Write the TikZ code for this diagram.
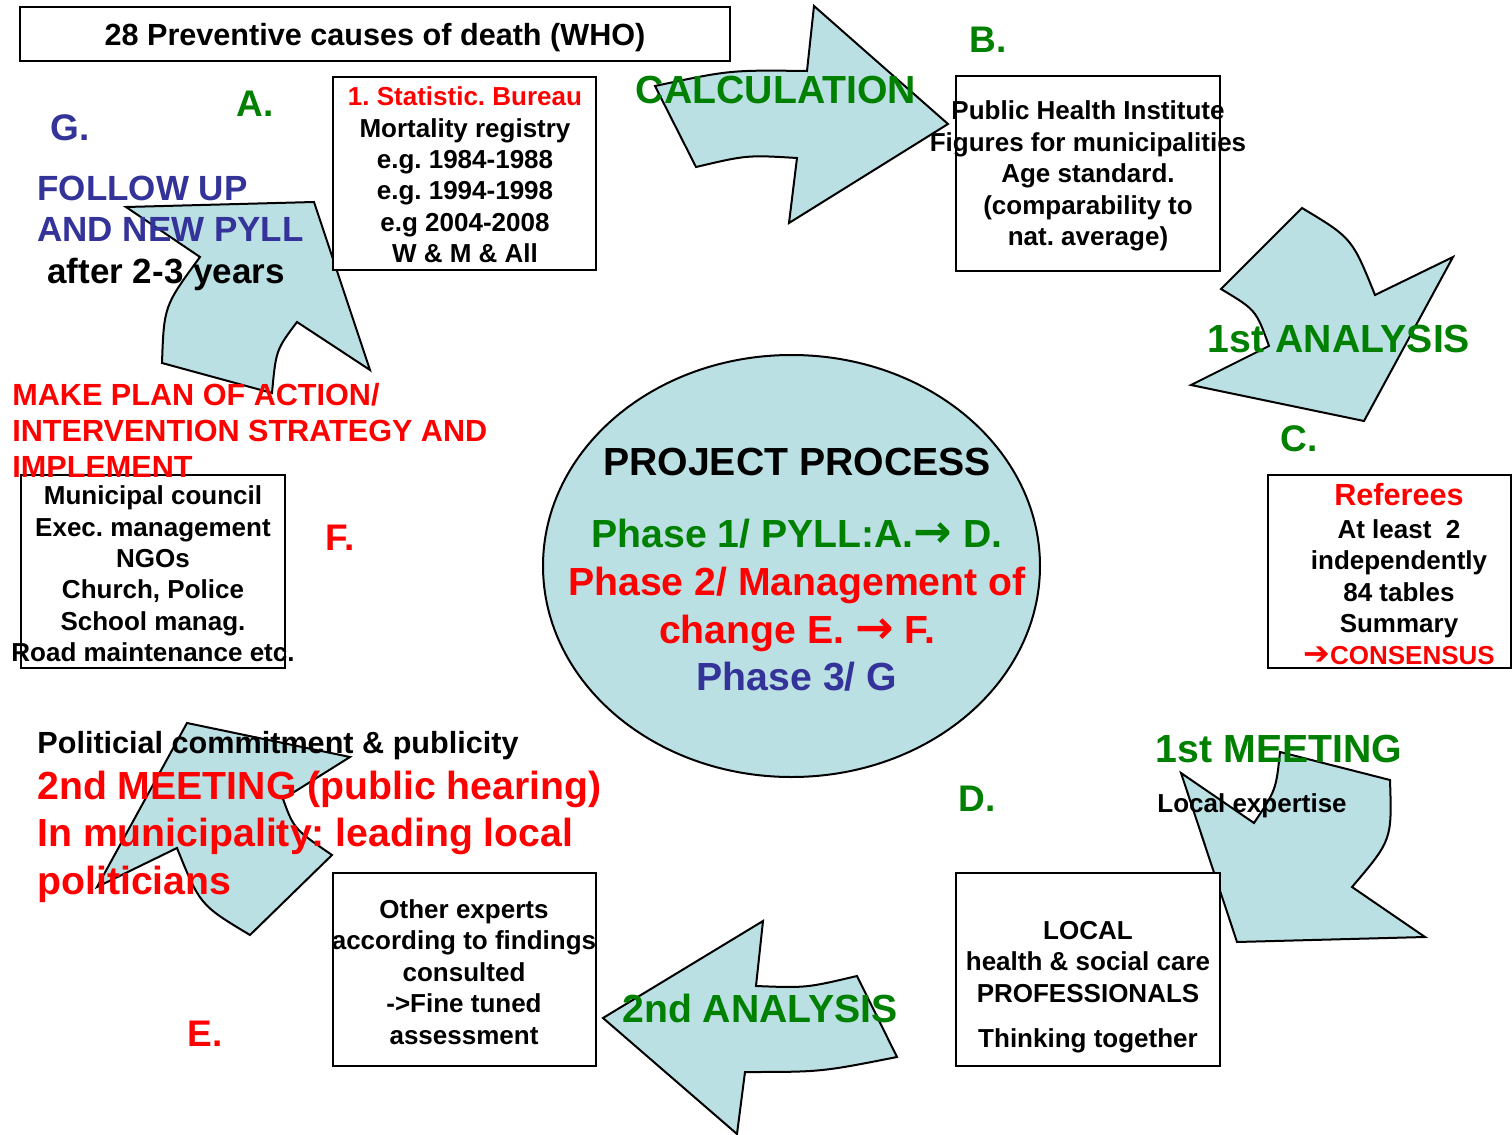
\documentclass[tikz,border=0pt]{standalone}
\usepackage{fontspec}
\setmainfont{Liberation Sans}
\newfontface\djvarr{DejaVu Sans}
\newfontface\djvbold{DejaVu Sans Bold}
\usetikzlibrary{shapes.geometric}
\definecolor{pgreen}{RGB}{0,128,0}
\definecolor{pred}{RGB}{255,0,0}
\definecolor{pblue}{RGB}{51,51,153}
\definecolor{arrfill}{RGB}{187,224,227}
\newcommand\phar{{\djvbold\fontsize{23}{23}\selectfont →}}
\tikzset{
  arr/.style={fill=arrfill, draw=black, line width=1pt, line join=miter},
  bx/.style={draw=black, line width=1pt, fill=white},
  boxtxt/.style={align=center, inner sep=0pt, font=\fontsize{13}{15.7}\selectfont\bfseries},
  fsA/.style={inner sep=0pt, font=\fontsize{13}{15.7}\selectfont\bfseries},
  fsB/.style={inner sep=0pt, font=\fontsize{15.3}{18}\selectfont\bfseries},
  fsC/.style={inner sep=0pt, font=\fontsize{17.5}{21}\selectfont\bfseries},
  fsD/.style={inner sep=0pt, font=\fontsize{18.5}{22}\selectfont\bfseries},
  fsE/.style={inner sep=0pt, font=\fontsize{19.6}{24}\selectfont\bfseries},
}
\begin{document}
\frenchspacing
\begin{tikzpicture}[x=0.5pt,y=-0.5pt]
\useasboundingbox (0,0) rectangle (1512,1135);

% ---- circular arrows ----
\draw[arr] (655,86) .. controls (730,70) .. (807,71) -- (814,6) -- (948,124) -- (789,223) -- (797,158) .. controls (747,155) .. (696,167) -- cycle;
\draw[arr] (1302,208) .. controls (1352,238) .. (1375,295) -- (1453,257) -- (1364,421) -- (1191,385) -- (1269,346) .. controls (1256,310) .. (1221,289) -- cycle;
\draw[arr] (1280,752) -- (1390,780) .. controls (1392,840) .. (1352,887) -- (1425,937) -- (1237,942) -- (1181,773) -- (1254,823) .. controls (1276,790) .. (1280,752) -- cycle;
\draw[arr] (763,921) -- (756,986) .. controls (806,988) .. (857,976) -- (897,1057) .. controls (821,1072) .. (745,1072) -- (737,1134) -- (603,1018) -- cycle;
\draw[arr] (187,723) -- (350,757) -- (283,799) .. controls (294,829) .. (332,855) -- (250,935) .. controls (200,905) .. (177,848) -- (97,887) -- cycle;
\draw[arr] (314,202) -- (370,370) -- (297,322) .. controls (276,350) .. (272,393) -- (162,363) .. controls (164,306) .. (200,257) -- (126,207) -- cycle;

% ---- central ellipse ----
\node[ellipse, fill=arrfill, draw=black, line width=1pt, minimum width=248.5pt, minimum height=211pt, inner sep=0pt] (ell) at (791.5,566) {};

% ---- boxes ----
\draw[bx] (20,7) rectangle (730,61);
\draw[bx] (333,77) rectangle (596,270);
\draw[bx] (956,76) rectangle (1220,271);
\draw[bx] (1268,475) rectangle (1511,668);
\draw[bx] (956,873) rectangle (1220,1066);
\draw[bx] (333,873) rectangle (596,1066);
\draw[bx] (21,475) rectangle (285,668);

% ---- box texts ----
\node[fsB, anchor=base] (title) at (375,46) {28 Preventive causes of death (WHO)};
\node[boxtxt] (boxA) at (465,175) {\textcolor{pred}{1. Statistic. Bureau}\\Mortality registry\\e.g. 1984-1988\\e.g. 1994-1998\\e.g 2004-2008\\W \& M \& All};
\node[boxtxt] (boxB) at (1088,176) {Public Health Institute\\Figures for municipalities\\Age standard.\\(comparability to\\nat. average)};
\node[fsB, anchor=base, text=pred] (ref) at (1399,505) {Referees};
\node[boxtxt] (boxC) at (1399,592) {At least\ \ 2\\independently\\84 tables\\Summary\\\textcolor{pred}{{\djvarr\fontsize{16}{16}\selectfont ➔}CONSENSUS}};
\node[boxtxt] (boxD) at (1088,987) {LOCAL\\health \& social care\\PROFESSIONALS\\[7pt]Thinking together};
\node[boxtxt] (boxE) at (464,972) {Other experts\\according to findings\\consulted\\->Fine tuned\\assessment};
\node[boxtxt] (boxF) at (153,574) {Municipal council\\Exec. management\\NGOs\\Church, Police\\School manag.\\Road maintenance etc.};

% ---- ellipse texts ----
\node[fsE, anchor=base] (pp) at (797,475) {PROJECT PROCESS};
\node[fsE, anchor=base, text=pgreen] (ph1) at (797,547) {Phase 1/ PYLL:A.\phar{} D.};
\node[fsE, anchor=base, text=pred] (ph2a) at (797,595) {Phase 2/ Management of};
\node[fsE, anchor=base, text=pred] (ph2b) at (797,643) {change E. \phar{} F.};
\node[fsE, anchor=base, text=pblue] (ph3) at (797,690) {Phase 3/ G};

% ---- arrow labels ----
\node[fsE, anchor=base, text=pgreen] (lcalc) at (776,104) {CALCULATION};
\node[fsE, anchor=base, text=pgreen] (lan1) at (1339,352) {1st ANALYSIS};
\node[fsE, anchor=base, text=pgreen] (lmeet1) at (1279,762) {1st MEETING};
\node[fsA, anchor=base west] (lloc) at (1157,812) {Local expertise};
\node[fsE, anchor=base, text=pgreen] (lan2) at (760,1022) {2nd ANALYSIS};

% ---- letters ----
\node[fsD, anchor=base, text=pgreen] (la) at (255,116) {A.};
\node[fsD, anchor=base, text=pgreen] (lb) at (988,53) {B.};
\node[fsD, anchor=base, text=pgreen] (lc) at (1299,451) {C.};
\node[fsD, anchor=base, text=pgreen] (ld) at (977,811) {D.};
\node[fsD, anchor=base, text=pred] (le) at (205,1046) {E.};
\node[fsD, anchor=base, text=pred] (lf) at (340,550) {F.};
\node[fsD, anchor=base, text=pblue] (lg) at (70,140) {G.};

% ---- left texts ----
\node[fsC, anchor=base west, text=pblue] (fu1) at (37,200) {FOLLOW UP};
\node[fsC, anchor=base west, text=pblue] (fu2) at (37,241) {AND NEW PYLL};
\node[fsC, anchor=base west] (fu3) at (47,283) {after 2-3 years};

\node[fsB, anchor=base west, text=pred] (mp1) at (12,405) {MAKE PLAN OF ACTION/};
\node[fsB, anchor=base west, text=pred] (mp2) at (12,441) {INTERVENTION STRATEGY AND};
\node[fsB, anchor=base west, text=pred] (mp3) at (12,477) {IMPLEMENT};

\node[fsB, anchor=base west] (pol) at (37,753) {Politicial commitment \& publicity};
\node[fsE, anchor=base west, text=pred] (m2a) at (37,799) {2nd MEETING (public hearing)};
\node[fsE, anchor=base west, text=pred] (m2b) at (37,846) {In municipality: leading local};
\node[fsE, anchor=base west, text=pred] (m2c) at (37,894) {politicians};
\end{tikzpicture}
\end{document}
